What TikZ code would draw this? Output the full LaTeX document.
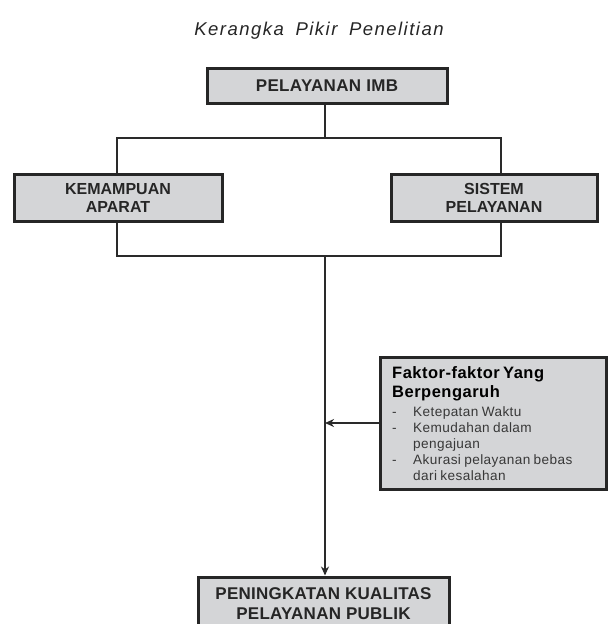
\documentclass[tikz,border=0pt]{standalone}
\usepackage{fontspec}
\setmainfont{Liberation Sans}
\usetikzlibrary{arrows.meta}
\definecolor{boxfill}{HTML}{D4D5D7}
\definecolor{boxline}{HTML}{262626}
\definecolor{linecol}{HTML}{2A2A2A}
\definecolor{txtgray}{HTML}{383838}
\tikzset{
  box/.style={draw=boxline, line width=3pt, fill=boxfill, align=center,
    font=\fontsize{16}{18}\selectfont\bfseries, text=black!85, inner sep=0pt},
  conn/.style={draw=linecol, line width=2.4pt},
  arr/.style={conn, -{Stealth[length=9pt,width=8pt]}},
}
\begin{document}
\begin{tikzpicture}[x=1pt,y=-1pt]
\clip (0,0) rectangle (608,624);
\fill[white] (0,0) rectangle (608,624);
\node[font=\fontsize{18.5}{20}\selectfont\itshape, text=black!85] (title) at (319,31)
  {\addfontfeature{LetterSpace=8}Kerangka\hspace{5pt} Pikir\hspace{5pt} Penelitian};
\node[box, minimum width=240, minimum height=35, font=\fontsize{17}{18}\selectfont\bfseries] (top) at (327,85.5) {\addfontfeature{LetterSpace=2}PELAYANAN IMB};
\node[box, minimum width=208, minimum height=47] (left) at (118,197.5) {KEMAMPUAN\\APARAT};
\node[box, minimum width=206, minimum height=47] (right) at (494,197.5) {SISTEM\\PELAYANAN};
\node[box, minimum width=251, minimum height=54, font=\fontsize{17}{20}\selectfont\bfseries] (bottom) at (323.5,604)
  {\addfontfeature{LetterSpace=1.5}PENINGKATAN KUALITAS\\\addfontfeature{LetterSpace=1.5}PELAYANAN PUBLIK};
\node[draw=boxline, line width=3pt, fill=boxfill, minimum width=226, minimum height=132] (factor) at (493,423) {};
\node[anchor=north west, align=left, inner sep=0pt, text width=212] (factortext) at (392,366) {%
  {\fontsize{16.5}{19}\selectfont\bfseries\addfontfeature{LetterSpace=3}Faktor-faktor Yang\\Berpengaruh\par}%
  \vspace{3pt}%
  {\fontsize{13.6}{16}\selectfont\color{txtgray}\addfontfeature{LetterSpace=3}%
  \makebox[21pt][l]{-}Ketepatan Waktu\\
  \makebox[21pt][l]{-}Kemudahan dalam\\
  \makebox[21pt][l]{}pengajuan\\
  \makebox[21pt][l]{-}Akurasi pelayanan bebas\\
  \makebox[21pt][l]{}dari kesalahan\par}};
\coordinate (j) at (325,138);
\coordinate (jl) at (117,138);
\coordinate (jr) at (501,138);
\coordinate (k) at (325,256);
\coordinate (kl) at (117,256);
\coordinate (kr) at (501,256);
\draw[conn] (top.south -| j) -- (j);
\draw[conn] (jl |- left.north) -- (jl) -- (jr) -- (jr |- right.north);
\draw[conn] (kl |- left.south) -- (kl) -- (kr) -- (kr |- right.south);
\draw[arr] (k) -- (k |- bottom.north);
\draw[arr] (factor.west) -- (factor.west -| k);
\end{tikzpicture}
\end{document}
